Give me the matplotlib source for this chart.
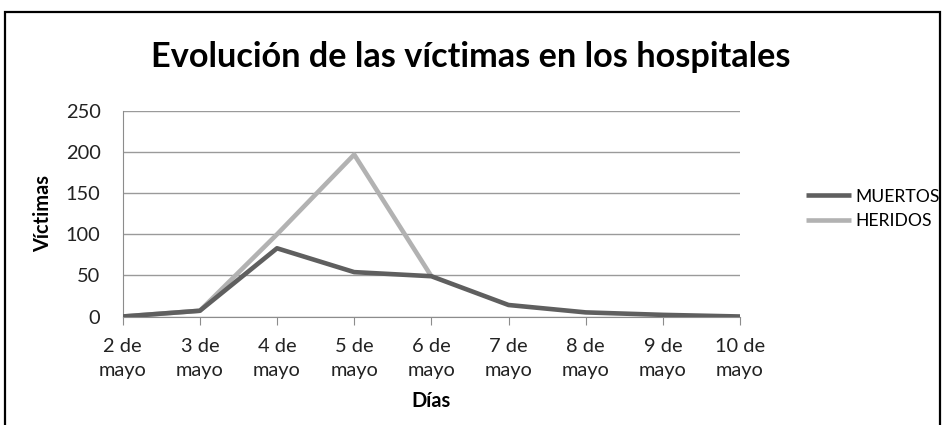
import matplotlib
matplotlib.use("Agg")
import matplotlib.pyplot as plt
from matplotlib.patches import Rectangle

# datos
dias = ["2 de\nmayo", "3 de\nmayo", "4 de\nmayo", "5 de\nmayo", "6 de\nmayo",
        "7 de\nmayo", "8 de\nmayo", "9 de\nmayo", "10 de\nmayo"]
muertos = [0, 7, 83, 54, 49, 14, 5, 2, 0]
heridos = [0, 7, 100, 197, 49, None, None, None, None]
y_ticks = [0, 50, 100, 150, 200, 250]

plt.rcParams["font.family"] = ["Lato", "DejaVu Sans"]

W, H = 943, 425
fig = plt.figure(figsize=(W / 100, H / 100), dpi=100)
fig.patch.set_facecolor("white")
renderer = fig.canvas.get_renderer()


def fit_size(text, target_px, weight="normal"):
    """tamaño de letra para que el texto mida target_px de ancho"""
    t = fig.text(0, 0, text, fontsize=20, fontweight=weight)
    w = t.get_window_extent(renderer).width
    t.remove()
    return 20 * target_px / w


# área de trazado (píxeles medidos en la referencia)
left, right, top, bottom = 122.7, 740, 111, 316.5
ax = fig.add_axes([left / W, 1 - bottom / H, (right - left) / W, (bottom - top) / H])

x = list(range(len(dias)))
ax.plot(x, muertos, color="#5f5f5f", linewidth=3.3, label="MUERTOS", solid_capstyle="butt", zorder=3)
hx = [i for i, v in zip(x, heridos) if v is not None]
hy = [v for v in heridos if v is not None]
ax.plot(hx, hy, color="#b2b2b2", linewidth=3.3, label="HERIDOS", solid_capstyle="butt", zorder=2)

tick_fs = fit_size("mayo", 48)
ax.set_xlim(0, len(dias) - 1)
ax.set_ylim(0, 250)
ax.set_yticks(y_ticks)
ax.set_xticks(x)
ax.set_xticklabels(dias, fontsize=tick_fs, color="#222222", linespacing=1.5)
ax.tick_params(axis="y", labelsize=tick_fs, colors="#222222", length=0, pad=16)
ax.tick_params(axis="x", length=5.5, color="#8c8c8c", pad=10)
ax.grid(axis="y", color="#9a9a9a", linewidth=1.0)
ax.set_axisbelow(True)
for s in ["top", "right"]:
    ax.spines[s].set_visible(False)
ax.spines["left"].set_color("#8c8c8c")
ax.spines["bottom"].set_color("#8c8c8c")

titulo = "Evolución de las víctimas en los hospitales"
fig.text(471 / W, 1 - 67 / H, titulo, fontsize=fit_size(titulo, 640, "bold"),
         fontweight="bold", ha="center", va="baseline")
fig.text(43 / W, 1 - 214 / H, "Víctimas", rotation=90, fontsize=tick_fs,
         fontweight="bold", ha="center", va="center")
fig.text(431 / W, 1 - 401 / H, "Días", fontsize=tick_fs,
         fontweight="bold", ha="center", va="center")

leg_fs = fit_size("MUERTOS", 84)
leg_px = leg_fs * 100 / 72
ax.legend(loc="center left", bbox_to_anchor=(797 / W, 1 - 209 / H),
          bbox_transform=fig.transFigure, frameon=False, borderpad=0,
          fontsize=leg_fs, handlelength=45 / leg_px, handletextpad=5 / leg_px,
          labelspacing=(30 - 1.2 * leg_px) / leg_px)

# marco del gráfico
fig.patches.append(Rectangle((5 / W, -0.05), 935 / W, 1.05 - 12 / H,
                             transform=fig.transFigure, fill=False,
                             edgecolor="black", linewidth=1.6))

fig.savefig("out.png", dpi=100)
